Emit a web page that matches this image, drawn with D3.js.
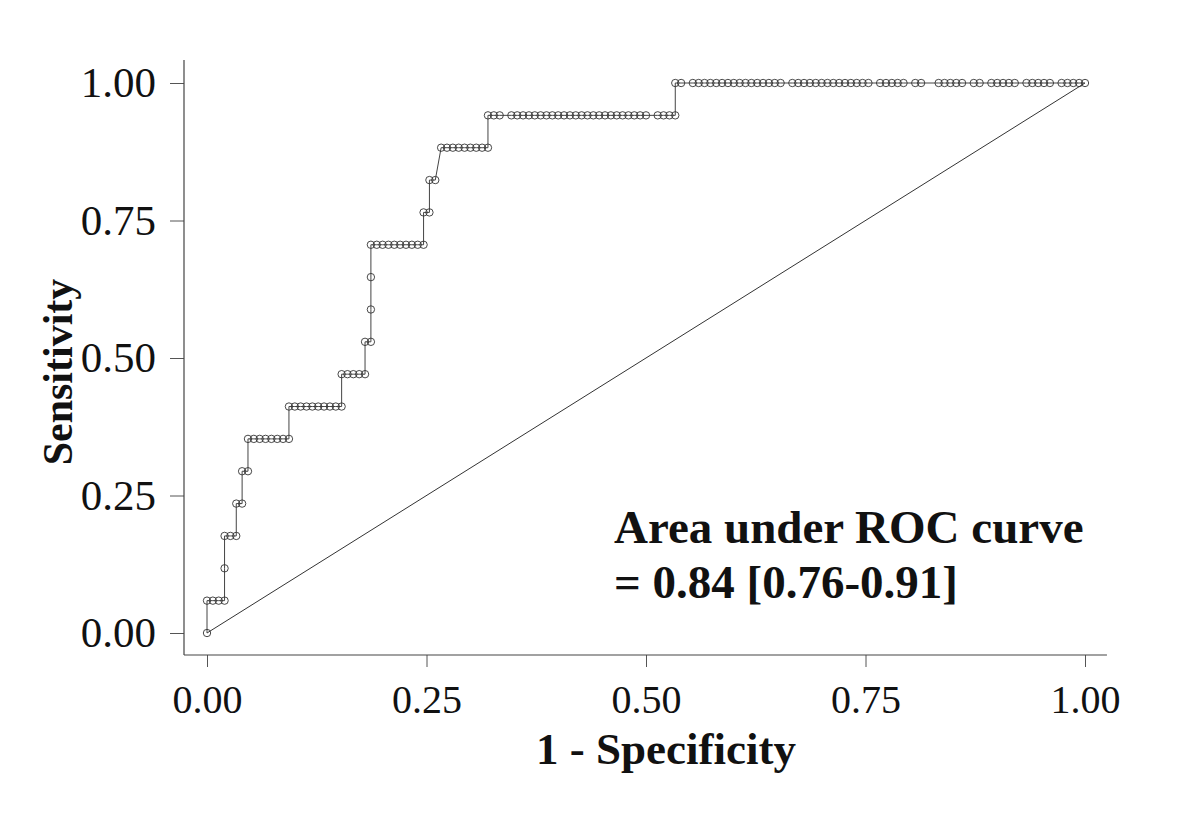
<!DOCTYPE html>
<html>
<head>
<meta charset="utf-8">
<script src="https://cdn.jsdelivr.net/npm/d3@7"></script>
<style>
  html, body { margin: 0; padding: 0; background: #fff; }
  svg { display: block; }
  text { font-family: "Liberation Serif", "Times New Roman", serif; }
</style>
</head>
<body>
<svg id="chart" width="1200" height="824"></svg>
<script>
// ---- data ----
const nNegatives = 150;
const nPositives = 17;
// false-positive counts at each cut point
const rocFP = [
  0,
  0,1,2,3,
  3,
  3,4,5,
  5,6,
  6,7,
  7,8,9,10,11,12,13,14,
  14,15,16,17,18,19,20,21,22,23,
  23,24,25,26,27,
  27,28,
  28,
  28,
  28,29,30,31,32,33,34,35,36,37,
  37,38,
  38,39,
  40,41,42,43,44,45,46,47,48,
  48,49,50,52,53,54,55,56,57,58,59,60,61,62,63,64,65,66,67,68,69,70,71,72,73,74,75,77,78,79,80,
  80,81,83,84,85,86,87,88,89,90,91,92,93,94,95,96,97,98,100,101,102,103,104,105,106,107,108,109,110,111,112,113,
  115,116,117,118,119,121,122,125,126,127,128,129,131,132,134,135,136,137,138,140,141,142,143,144,146,147,148,149,150
];
// true-positive counts at each cut point
const rocTP = [
  0,
  1,1,1,1,
  2,
  3,3,3,
  4,4,
  5,5,
  6,6,6,6,6,6,6,6,
  7,7,7,7,7,7,7,7,7,7,
  8,8,8,8,8,
  9,9,
  10,
  11,
  12,12,12,12,12,12,12,12,12,12,
  13,13,
  14,14,
  15,15,15,15,15,15,15,15,15,
  16,16,16,16,16,16,16,16,16,16,16,16,16,16,16,16,16,16,16,16,16,16,16,16,16,16,16,16,16,16,16,
  17,17,17,17,17,17,17,17,17,17,17,17,17,17,17,17,17,17,17,17,17,17,17,17,17,17,17,17,17,17,17,17,
  17,17,17,17,17,17,17,17,17,17,17,17,17,17,17,17,17,17,17,17,17,17,17,17,17,17,17,17,17
];
const referenceLine = [[0, 0], [1, 1]];
const xTicks = [0, 0.25, 0.5, 0.75, 1];
const yTicks = [0, 0.25, 0.5, 0.75, 1];
const xTitle = "1 - Specificity";
const yTitle = "Sensitivity";
const annotationLines = ["Area under ROC curve", "= 0.84 [0.76-0.91]"];

// ---- layout ----
const svg = d3.select("#chart");
const x = d3.scaleLinear().domain([0, 1]).range([207, 1085]);
const y = d3.scaleLinear().domain([0, 1]).range([633, 83]);
const axisX0 = 184, axisY0 = 655;

const points = rocFP.map((fp, i) => ({ x: fp / nNegatives, y: rocTP[i] / nPositives }));

// axes
const yAxis = svg.append("g").attr("transform", `translate(${axisX0},0)`)
  .call(d3.axisLeft(y).tickValues(yTicks).tickFormat(d3.format(".2f")).tickSize(14).tickPadding(14));
const xAxis = svg.append("g").attr("transform", `translate(0,${axisY0})`)
  .call(d3.axisBottom(x).tickValues(xTicks).tickFormat(d3.format(".2f")).tickSize(12).tickPadding(18));
[yAxis, xAxis].forEach(g => {
  g.select(".domain").remove();
  g.selectAll(".tick line").attr("stroke", "#555").attr("stroke-width", 1);
  g.selectAll(".tick text").attr("fill", "#111")
    .style("font-family", '"Liberation Serif", "Times New Roman", serif');
});
yAxis.selectAll(".tick text").style("font-size", "43px");
xAxis.selectAll(".tick text").style("font-size", "40px").attr("dy", "0.71em");
// axis lines (extend a little beyond the data range, as in the reference)
svg.append("line").attr("x1", axisX0).attr("x2", axisX0)
  .attr("y1", y(-0.04)).attr("y2", y(1.042)).attr("stroke", "#444").attr("stroke-width", 1.2);
svg.append("line").attr("x1", axisX0).attr("x2", x(1.025))
  .attr("y1", axisY0).attr("y2", axisY0).attr("stroke", "#444").attr("stroke-width", 1.2);

// reference diagonal
svg.append("path")
  .attr("d", d3.line().x(d => x(d[0])).y(d => y(d[1]))(referenceLine))
  .attr("fill", "none").attr("stroke", "#333").attr("stroke-width", 1);

// ROC curve
svg.append("path")
  .attr("d", d3.line().x(d => x(d.x)).y(d => y(d.y))(points))
  .attr("fill", "none").attr("stroke", "#444").attr("stroke-width", 1);
svg.append("g").selectAll("circle").data(points).join("circle")
  .attr("cx", d => x(d.x)).attr("cy", d => y(d.y)).attr("r", 3.7)
  .attr("fill", "none").attr("stroke", "#333").attr("stroke-width", 0.9);

// titles
svg.append("text").attr("x", 666).attr("y", 764).attr("text-anchor", "middle")
  .style("font-size", "45px").style("font-weight", "bold").attr("fill", "#111").text(xTitle);
svg.append("text").attr("transform", "translate(72,372) rotate(-90)").attr("text-anchor", "middle")
  .style("font-size", "42px").style("font-weight", "bold").attr("fill", "#111").text(yTitle);

// annotation
svg.append("g").selectAll("text").data(annotationLines).join("text")
  .attr("x", 614).attr("y", (d, i) => 543 + i * 55)
  .style("font-size", "47px").style("font-weight", "bold").attr("fill", "#111").text(d => d);
</script>
</body>
</html>
